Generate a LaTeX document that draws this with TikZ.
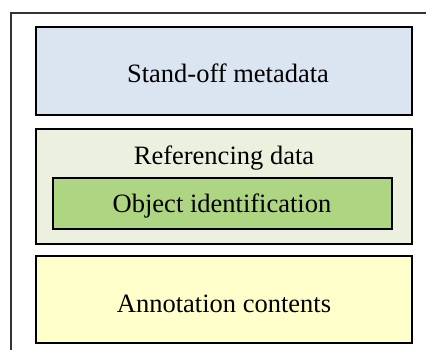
\documentclass[tikz,border=0pt]{standalone}
\usepackage{fontspec}
\setmainfont{Liberation Serif}
\definecolor{boxblue}{HTML}{DBE5F1}
\definecolor{boxlgreen}{HTML}{EBF1DE}
\definecolor{boxgreen}{HTML}{AED581}
\definecolor{boxyellow}{HTML}{FFFFCC}
\definecolor{framegray}{HTML}{333333}
\begin{document}
\begin{tikzpicture}[x=1pt,y=-1pt,
  layer/.style={draw=black,line width=1.5pt,rectangle},
  lbl/.style={font=\fontsize{26.5}{31}\selectfont,inner sep=0pt,anchor=base}]
\useasboundingbox (0,0) rectangle (426,350);
\draw[framegray,line width=1.5pt] (11,352) -- (11,13) -- (428,13);
\draw[layer,fill=boxblue] (36,27) rectangle (412,115);
\draw[layer,fill=boxlgreen] (36,129) rectangle (412,244);
\draw[layer,fill=boxgreen] (53,178) rectangle (392,229);
\draw[layer,fill=boxyellow] (36,256) rectangle (412,343);
\node[lbl] (meta) at (228,83) {Stand-off metadata};
\node[lbl] (ref) at (224,165) {Referencing data};
\node[lbl] (obj) at (222,212) {Object identification};
\node[lbl] (ann) at (224,312) {Annotation contents};
\end{tikzpicture}
\end{document}
